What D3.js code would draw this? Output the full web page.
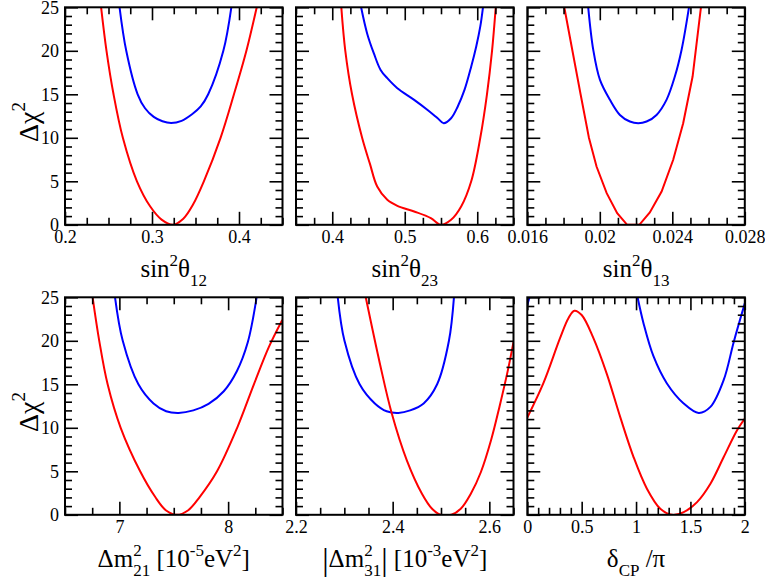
<!DOCTYPE html>
<html><head><meta charset="utf-8">
<script src="https://cdn.jsdelivr.net/npm/d3@7"></script>
<style>
body{margin:0;background:#fff}svg{display:block}
svg text{font-family:"Liberation Serif","DejaVu Serif",serif !important;}
</style>
</head><body><svg id="c" width="765" height="579"></svg>
<script>
// ---------------- data (x, Δχ²) ----------------
const sin12Red  = [[0.2415,25],[0.2477,20],[0.2558,15],[0.2665,10],[0.2827,5],[0.298,2.1],[0.311,0.6],[0.324,0],[0.336,0.7],[0.347,2.3],[0.3596,5],[0.3788,10],[0.3942,15],[0.4085,20],[0.4204,25]];
const sin12Blue = [[0.2627,25],[0.2704,20],[0.2835,15],[0.292,13.4],[0.302,12.4],[0.312,11.9],[0.322,11.7],[0.334,11.95],[0.346,12.7],[0.356,13.6],[0.3646,15],[0.382,20],[0.3912,25]];

const sin23Red  = [[0.4125,25],[0.418,20],[0.4273,15],[0.4412,10],[0.452,7],[0.462,4.4],[0.4759,2.87],[0.4898,2.18],[0.513,1.53],[0.536,0.77],[0.55,0],[0.5639,0.57],[0.5778,2.1],[0.5917,5],[0.6042,10],[0.6134,15],[0.6204,20],[0.6255,25]];
const sin23Blue = [[0.4398,25],[0.4481,22],[0.4574,19.7],[0.4667,17.8],[0.4759,16.85],[0.4898,15.7],[0.513,14.36],[0.5315,13.2],[0.5454,12.25],[0.5537,11.68],[0.5639,12.25],[0.5731,13.6],[0.5824,15.5],[0.5917,18.2],[0.5986,20.5],[0.6042,22.8],[0.6079,25]];

const sin13Red  = [[0.01804,25],[0.01894,15],[0.0194,10],[0.01982,6.7],[0.02038,3.64],[0.02096,1.34],[0.02151,0],[0.02218,0],[0.02276,1.42],[0.02341,3.83],[0.02405,7.47],[0.0246,11.68],[0.02512,17.04],[0.02558,25]];
const sin13Blue = [[0.01936,25],[0.01964,20.1],[0.02001,16.65],[0.02056,14.36],[0.02111,12.63],[0.02166,11.87],[0.02212,11.68],[0.02258,11.87],[0.02313,12.63],[0.02368,14.36],[0.02414,17.04],[0.02451,20.1],[0.02492,25]];

const dm21Red   = [[6.754,25],[6.815,20],[6.892,15],[7.012,10],[7.191,5],[7.33,2.04],[7.43,0.5],[7.529,0],[7.63,0.5],[7.738,2.04],[7.898,5],[8.083,10],[8.237,15],[8.375,19.3],[8.498,22.4]];
const dm21Blue  = [[6.96,25],[7.031,20],[7.175,15],[7.314,12.8],[7.43,11.9],[7.545,11.71],[7.68,12.0],[7.82,12.75],[7.96,14.2],[8.08,16.5],[8.18,19.8],[8.262,25]];

const dm31Red   = [[2.3443,25],[2.3735,17.4],[2.3979,11.7],[2.4293,6.26],[2.4606,2.42],[2.4815,0.69],[2.499,0],[2.5213,0],[2.5408,0.69],[2.5617,2.42],[2.5826,4.92],[2.6035,8.56],[2.6209,12.4],[2.6383,16.6],[2.6502,19.9]];
const dm31Blue  = [[2.2864,25],[2.3003,20],[2.3317,15],[2.3631,12.8],[2.3875,11.9],[2.4118,11.71],[2.4362,12.0],[2.4641,12.8],[2.492,15],[2.5164,20],[2.5268,25]];

const dcpRed    = [[0,11.18],[0.147,15.1],[0.301,20.3],[0.378,22.6],[0.433,23.46],[0.5,22.96],[0.608,20.3],[0.731,16.2],[0.854,11.25],[0.977,6.64],[1.1,3.0],[1.223,0.69],[1.33,0],[1.438,0.31],[1.561,1.46],[1.684,3.57],[1.806,6.64],[1.929,9.72],[2.0,11.06]];
const dcpBlueA  = [[0,24.1],[0.02,25]];
const dcpBlueB  = [[1.014,25],[1.069,22],[1.161,18.2],[1.284,15.1],[1.438,12.8],[1.576,11.71],[1.684,12.4],[1.806,15.5],[1.899,19.9],[2.0,24.3]];

// ---------------- axes: domains, ticks, labels ----------------
const yDomain = [0,25];
const yMajor = [0,5,10,15,20,25];
const yLabels = ["0","5","10","15","20","25"];
const yMinorStep = 1;

const xDom12 = [0.2,0.45],  xMaj12 = [0.2,0.3,0.4],            xLab12 = ["0.2","0.3","0.4"],            xMin12 = 0.025;
const xDom23 = [0.35,0.65], xMaj23 = [0.4,0.5,0.6],            xLab23 = ["0.4","0.5","0.6"],            xMin23 = 0.025;
const xDom13 = [0.016,0.028], xMaj13 = [0.016,0.02,0.024,0.028], xLab13 = ["0.016","0.02","0.024","0.028"], xMin13 = 0.001;
const xDom21 = [6.5,8.5],   xMaj21 = [7,8],                    xLab21 = ["7","8"],                      xMin21 = 0.25;
const xDom31 = [2.2,2.65],  xMaj31 = [2.2,2.4,2.6],            xLab31 = ["2.2","2.4","2.6"],            xMin31 = 0.05;
const xDomCP = [0,2],       xMajCP = [0,0.5,1,1.5,2],          xLabCP = ["0","0.5","1","1.5","2"],      xMinCP = 0.1;

const RED = "#ff0000", BLUE = "#0000ff";
const FONT = '"Liberation Serif","DejaVu Serif",serif';
const TF = 25, SF = 17, TICKF = 18;

// titles as segments: t text, s size, b baseline shift, st = stack on previous segment
const title12 = [{t:"sin"},{t:"2",s:SF,b:-11},{t:"θ"},{t:"12",s:SF,b:9}];
const title23 = [{t:"sin"},{t:"2",s:SF,b:-11},{t:"θ"},{t:"23",s:SF,b:9}];
const title13 = [{t:"sin"},{t:"2",s:SF,b:-11},{t:"θ"},{t:"13",s:SF,b:9}];
const title21 = [{t:"Δm"},{t:"2",s:SF,b:-11},{t:"21",s:SF,b:9,st:true},{t:"\u00a0[10"},{t:"-5",s:SF,b:-11},{t:"eV"},{t:"2",s:SF,b:-11},{t:"]"}];
const title31 = [{t:"|",s:32,b:3},{t:"Δm"},{t:"2",s:SF,b:-11},{t:"31",s:SF,b:9,st:true},{t:"|",s:32,b:3},{t:"\u00a0[10"},{t:"-3",s:SF,b:-11},{t:"eV"},{t:"2",s:SF,b:-11},{t:"]"}];
const titleCP = [{t:"δ"},{t:"CP",s:SF,b:9},{t:"\u00a0/π"}];
const titleY  = [{t:"Δχ",s:28},{t:"2",s:19,b:-13}];

// ---------------- layout ----------------
const W = 217.5, H = 217.5;
const colX = [65, 296, 527.3], rowY = [7.3, 297.3];

const svg = d3.select("#c");
const defs = svg.append("defs");

function richText(parent, segs, anchorX, baseY, rotate){
  const g = parent.append("g");
  let cursor = 0, prevStart = 0, prevEnd = 0;
  segs.forEach(sg => {
    const start = sg.st ? prevStart : cursor;
    const t = g.append("text")
      .attr("x", start).attr("y", sg.b || 0)
      .style("font-family", FONT).attr("font-size", sg.s || TF)
      .attr("fill", "#000").text(sg.t);
    const w = t.node().getComputedTextLength();
    if (sg.st) { cursor = Math.max(prevEnd, start + w); }
    else { prevStart = start; prevEnd = start + w; cursor = start + w; }
  });
  const total = cursor;
  g.attr("transform", rotate
    ? `translate(${anchorX},${baseY}) rotate(-90) translate(${-total/2},0)`
    : `translate(${anchorX - total/2},${baseY})`);
}

function minorValues(dom, step, majors){
  const n = Math.round((dom[1]-dom[0])/step);
  return d3.range(n+1).map(i => +(dom[0] + i*step).toFixed(6))
    .filter(v => !majors.some(m => Math.abs(m - v) < step*1e-3));
}

function styleAxis(a){
  a.attr("font-family", null);
  a.select(".domain").remove();
  a.selectAll("line").attr("stroke","#000").attr("stroke-width",1.6);
  a.selectAll("text").style("font-family",FONT).attr("font-size",TICKF).attr("fill","#000");
}

let pid = 0;
function panel(col, row, dom, maj, lab, minStep, series, title){
  const x0 = colX[col], y0 = rowY[row];
  const g = svg.append("g").attr("transform",`translate(${x0},${y0})`);
  const x = d3.scaleLinear().domain(dom).range([0,W]);
  const y = d3.scaleLinear().domain(yDomain).range([H,0]);
  const cid = "clip"+(pid++);
  defs.append("clipPath").attr("id",cid).append("rect").attr("width",W).attr("height",H);

  series.forEach(s => {
    g.append("path").datum(s.data)
      .attr("d", d3.line().x(d=>x(d[0])).y(d=>y(d[1])).curve(s.curve || d3.curveCatmullRom.alpha(0.5)))
      .attr("fill","none").attr("stroke",s.color).attr("stroke-width",2)
      .attr("clip-path",`url(#${cid})`);
  });

  const xMinor = minorValues(dom, minStep, maj);
  const yMinor = minorValues(yDomain, yMinorStep, yMajor);

  styleAxis(g.append("g").attr("transform",`translate(0,${H})`)
    .call(d3.axisBottom(x).tickValues(maj).tickFormat((d,i)=>lab[i]).tickSize(-13).tickSizeOuter(0).tickPadding(5.2)));
  styleAxis(g.append("g").attr("transform",`translate(0,${H})`)
    .call(d3.axisBottom(x).tickValues(xMinor).tickFormat("").tickSize(-7).tickSizeOuter(0)));
  styleAxis(g.append("g").call(d3.axisTop(x).tickValues(maj).tickFormat("").tickSize(-13).tickSizeOuter(0)));
  styleAxis(g.append("g").call(d3.axisTop(x).tickValues(xMinor).tickFormat("").tickSize(-7).tickSizeOuter(0)));
  styleAxis(g.append("g")
    .call(d3.axisLeft(y).tickValues(yMajor).tickFormat((d,i)=> col===0 ? yLabels[i] : "").tickSize(-13).tickSizeOuter(0).tickPadding(6)));
  styleAxis(g.append("g").call(d3.axisLeft(y).tickValues(yMinor).tickFormat("").tickSize(-7).tickSizeOuter(0)));
  styleAxis(g.append("g").attr("transform",`translate(${W},0)`)
    .call(d3.axisRight(y).tickValues(yMajor).tickFormat("").tickSize(-13).tickSizeOuter(0)));
  styleAxis(g.append("g").attr("transform",`translate(${W},0)`)
    .call(d3.axisRight(y).tickValues(yMinor).tickFormat("").tickSize(-7).tickSizeOuter(0)));

  g.append("rect").attr("width",W).attr("height",H).attr("fill","none").attr("stroke","#000").attr("stroke-width",2);

  richText(svg, title, x0 + W/2, y0 + H + 52.5, false);
  if (col === 0) richText(svg, titleY, 38, y0 + H/2 + 6, true);
}

panel(0,0,xDom12,xMaj12,xLab12,xMin12,[{data:sin12Blue,color:BLUE},{data:sin12Red,color:RED}],title12);
panel(1,0,xDom23,xMaj23,xLab23,xMin23,[{data:sin23Blue,color:BLUE},{data:sin23Red,color:RED}],title23);
panel(2,0,xDom13,xMaj13,xLab13,xMin13,[{data:sin13Blue,color:BLUE},{data:sin13Red,color:RED,curve:d3.curveLinear}],title13);
panel(0,1,xDom21,xMaj21,xLab21,xMin21,[{data:dm21Blue,color:BLUE},{data:dm21Red,color:RED}],title21);
panel(1,1,xDom31,xMaj31,xLab31,xMin31,[{data:dm31Blue,color:BLUE},{data:dm31Red,color:RED}],title31);
panel(2,1,xDomCP,xMajCP,xLabCP,xMinCP,[{data:dcpBlueA,color:BLUE},{data:dcpBlueB,color:BLUE},{data:dcpRed,color:RED}],titleCP);
</script>
</body></html>
